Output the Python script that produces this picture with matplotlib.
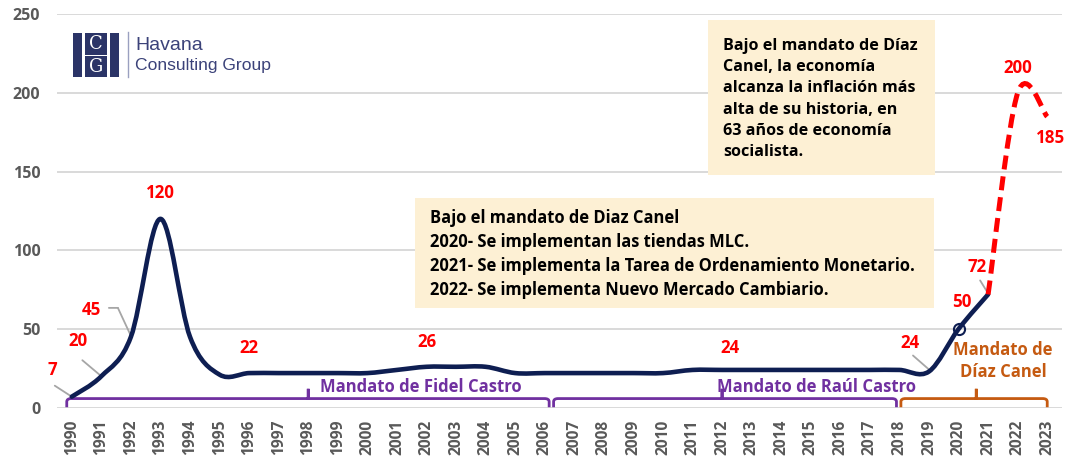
import matplotlib
matplotlib.use("Agg")
import matplotlib.pyplot as plt
from matplotlib.path import Path
from matplotlib.patches import PathPatch, Rectangle
from matplotlib.transforms import offset_copy
import numpy as np

# ---------------- data ----------------
years = list(range(1990, 2024))
inflation = [7, 20, 45, 120, 45, 21, 22, 22, 22, 22, 22, 24, 26, 26, 26, 22, 22,
             22, 22, 22, 22, 24, 24, 24, 24, 24, 24, 24, 24, 23, 50, 72, 200, 185]
solid_end_year = 2021            # last year of solid (navy) series
label_years = [1990, 1991, 1992, 1993, 1996, 2002, 2012, 2019, 2020, 2021, 2022, 2023]
label_texts = ["7", "20", "45", "120", "22", "26", "24", "24", "50", "72", "200", "185"]
yticks = [0, 50, 100, 150, 200, 250]

periods = [("Mandato de Fidel Castro", 1989.83, 2006.15, 1998.0),
           ("Mandato de Raúl Castro", 2006.3, 2017.9, 2012.0),
           ("Mandato de\nDíaz Canel", 2018.05, 2023.0, 2020.6)]

box1_text = ("Bajo el mandato de Díaz\nCanel, la economía\nalcanza la inflación más\n"
             "alta de su historia, en\n63 años de economía\nsocialista.")
box2_text = ("Bajo el mandato de Diaz Canel\n2020- Se implementan las tiendas MLC.\n"
             "2021- Se implementa la Tarea de Ordenamiento Monetario.\n"
             "2022- Se implementa Nuevo Mercado Cambiario.")

NAVY = "#0E1E52"
RED = "#FF0000"
PURPLE = "#7030A0"
ORANGE = "#C55A11"
GRAY = "#595959"
FONT = ["Open Sans", "DejaVu Sans"]

plt.rcParams["font.family"] = FONT

fig = plt.figure(figsize=(10.69, 4.62), dpi=100)
ax = fig.add_axes([57 / 1069, 1 - 407.7 / 462, (1062 - 57) / 1069, (407.7 - 14.3) / 462])
ax.set_xlim(1989.5, 2023.5)
ax.set_ylim(0, 250)
for s in ax.spines.values():
    s.set_visible(False)
ax.set_yticks(yticks)
ax.set_xticks(years)
ax.set_xticklabels([str(y) for y in years], rotation=90, fontsize=11.2,
                   fontweight="bold", color=GRAY)
ax.set_yticklabels([str(v) for v in yticks], fontsize=11.5, fontweight="bold", color=GRAY)
ax.tick_params(axis="y", length=0, pad=12)
ax.tick_params(axis="x", length=0, pad=8.5)
ax.grid(axis="y", color="#D9D9D9", lw=1.4)
ax.set_axisbelow(True)


def smooth_path(xs, ys):
    pts = np.column_stack([xs, ys]).astype(float)
    n = len(pts)
    verts = [pts[0]]
    codes = [Path.MOVETO]
    for i in range(n - 1):
        p0 = pts[i - 1] if i > 0 else pts[i]
        p1 = pts[i]
        p2 = pts[i + 1]
        p3 = pts[i + 2] if i + 2 < n else pts[i + 1]
        c1 = p1 + (p2 - p0) / 6.0
        c2 = p2 - (p3 - p1) / 6.0
        verts += [c1, c2, p2]
        codes += [Path.CURVE4] * 3
    return Path(verts, codes)


k = years.index(solid_end_year)
ax.add_patch(PathPatch(smooth_path(years[:k + 1], inflation[:k + 1]), fill=False,
                       edgecolor=NAVY, lw=3.3, capstyle="round", joinstyle="round", zorder=4))
ax.add_patch(PathPatch(smooth_path(years[k:], inflation[k:]), fill=False,
                       edgecolor=RED, lw=3.6, linestyle=(0, (2.8, 1.4)), zorder=4))
# open marker at 2020
i20 = years.index(2020)
ax.plot([years[i20]], [inflation[i20]], marker="o", ms=8, mfc="none", mec=NAVY, mew=1.5, zorder=5)

# data labels (offsets in pixels)
offsets = {1990: (-19, 27), 1991: (-23, 35), 1992: (-39, 27), 1993: (0, 26), 1996: (0, 25),
           2002: (0, 25), 2012: (8, 22), 2019: (-19, 29), 2020: (3, 27),
           2021: (-11, 27), 2022: (0, 25), 2023: (3, -21)}
for yr, txt in zip(label_years, label_texts):
    v = inflation[years.index(yr)]
    dx, dy = offsets[yr]
    ax.annotate(txt, (yr, v), xytext=(dx, dy), textcoords="offset pixels",
                ha="center", va="center", color=RED, fontsize=12.2, fontweight="bold", zorder=6)


def leader(yr, pts):
    v = inflation[years.index(yr)]
    for (sx, sy), (ex, ey) in zip(pts[:-1], pts[1:]):
        ax.annotate("", xy=(yr, v), xycoords=offset_copy(ax.transData, fig, x=ex, y=ey, units="dots"),
                    xytext=(yr, v), textcoords=offset_copy(ax.transData, fig, x=sx, y=sy, units="dots"),
                    arrowprops=dict(arrowstyle="-", color="#A6A6A6", lw=1.3, shrinkA=0, shrinkB=0),
                    zorder=3)


leader(1990, [(-17, 11), (0, 0)])
leader(1991, [(-19, 16), (0, 0)])
leader(1992, [(-22, 29), (-13, 29), (0, 1)])
leader(2019, [(-16, 16), (0, 2)])
leader(2021, [(-8, 14), (0, 1)])

# period brackets
for i, (name, x0, x1, xm) in enumerate(periods):
    col = ORANGE if i == 2 else PURPLE
    yb, yend, ytop = 5.8, 0.3, 12.0
    r = 0.15
    verts = [(x0, yend), (x0, yb - 2), (x0, yb), (x0 + r, yb), (xm, yb), (xm, ytop), (xm, yb),
             (x1 - r, yb), (x1, yb), (x1, yb - 2), (x1, yend)]
    codes = [Path.MOVETO, Path.LINETO, Path.CURVE3, Path.CURVE3, Path.LINETO, Path.LINETO,
             Path.LINETO, Path.LINETO, Path.CURVE3, Path.CURVE3, Path.LINETO]
    ax.add_patch(PathPatch(Path(verts, codes), fill=False, edgecolor=col, lw=2.0, zorder=3))

ax.text(2001.81, 13.2, periods[0][0], ha="center", va="center", color=PURPLE,
        fontsize=12, fontweight="bold")
ax.text(2015.2, 13.2, periods[1][0], ha="center", va="center", color=PURPLE,
        fontsize=12, fontweight="bold")
ax.text(2021.5, 29.5, periods[2][0], ha="center", va="center", color=ORANGE,
        fontsize=12, fontweight="bold", linespacing=1.3)


# annotation boxes (figure pixel coords)
def fig_box(x0, y0, x1, y1):
    fig.patches.append(Rectangle((x0 / 1069, 1 - y1 / 462), (x1 - x0) / 1069, (y1 - y0) / 462,
                                 transform=fig.transFigure, facecolor="#FDF0D4",
                                 edgecolor="none", zorder=1))


fig_box(708, 20, 935, 175)
fig_box(415, 198, 934, 308)
fig.text(723 / 1069, 1 - 99 / 462, box1_text, ha="left", va="center", fontsize=11.6,
         fontweight="bold", color="black", linespacing=1.45, zorder=2)
fig.text(430 / 1069, 1 - 254 / 462, box2_text, ha="left", va="center", fontsize=11.9,
         fontweight="bold", color="black", linespacing=1.42, zorder=2)

# logo
LOGO = "#2B3467"
for (lx, ly, lw_, lh) in [(73, 33, 9, 44), (110, 33, 9, 44), (85, 33, 22, 21.5), (85, 55.5, 22, 21.5)]:
    fig.patches.append(Rectangle((lx / 1069, 1 - (ly + lh) / 462), lw_ / 1069, lh / 462,
                                 transform=fig.transFigure, facecolor=LOGO, edgecolor="none"))
fig.text(96 / 1069, 1 - 44 / 462, "C", ha="center", va="center", color="white",
         fontsize=13, family=["DejaVu Serif"])
fig.text(96 / 1069, 1 - 66.5 / 462, "G", ha="center", va="center", color="white",
         fontsize=13, family=["DejaVu Serif"])
fig.lines.append(plt.Line2D([128 / 1069, 128 / 1069], [1 - 32 / 462, 1 - 77 / 462],
                            transform=fig.transFigure, color="#9AA0C0", lw=1))
fig.text(135 / 1069, 1 - 46 / 462, "Havana", ha="left", va="center", color="#3B4279",
         fontsize=14, family=["Liberation Sans", "DejaVu Sans"])
fig.text(135 / 1069, 1 - 66 / 462, "Consulting Group", ha="left", va="center", color="#3B4279",
         fontsize=12.6, family=["Liberation Sans", "DejaVu Sans"])

fig.savefig("out.png", dpi=100)
